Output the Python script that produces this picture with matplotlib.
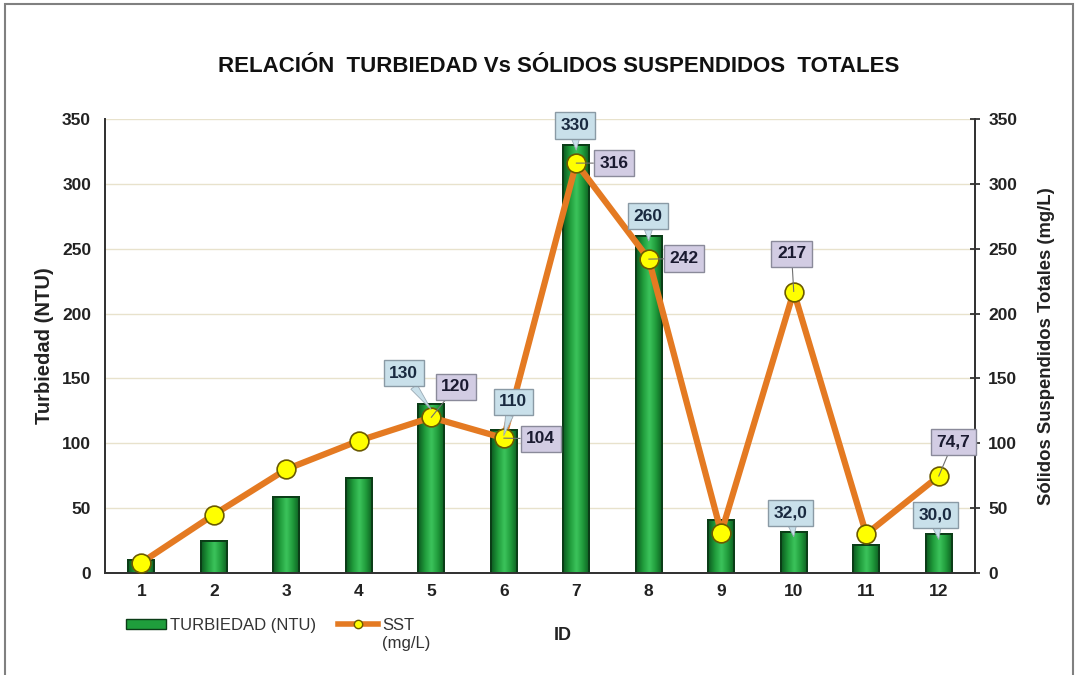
import matplotlib
matplotlib.use("Agg")
import matplotlib.pyplot as plt
import numpy as np
from matplotlib.patches import Rectangle, Patch
from matplotlib.lines import Line2D
from matplotlib.colors import LinearSegmentedColormap

plt.rcParams['font.family'] = ['Liberation Sans', 'DejaVu Sans']

ids = [1, 2, 3, 4, 5, 6, 7, 8, 9, 10, 11, 12]
turbiedad = [10, 25, 59, 73, 130, 110, 330, 260, 41, 32, 22, 30]
sst = [8, 45, 80, 102, 120, 104, 316, 242, 31, 217, 30, 74.7]
yticks = [0, 50, 100, 150, 200, 250, 300, 350]

# labelled points (index) and label text
turb_labels = {4: "130", 5: "110", 6: "330", 7: "260", 9: "32,0", 11: "30,0"}
sst_labels = {4: "120", 5: "104", 6: "316", 7: "242", 9: "217", 11: "74,7"}

# label box positions (layout only)
turb_pos = {4: (4.62, 154), 5: (6.13, 132), 6: (6.98, 345), 7: (7.99, 275), 9: (9.96, 46.5), 11: (11.95, 45)}
sst_pos = {4: (5.34, 143.5), 5: (6.51, 103.5), 6: (7.52, 316), 7: (8.49, 242.5), 9: (9.97, 246), 11: (12.2, 101)}

fig = plt.figure(figsize=(10.76, 6.75), dpi=100)
fig.patches.append(Rectangle((0.005, -0.01), 0.992, 1.004, transform=fig.transFigure,
                             fill=False, edgecolor='#808080', linewidth=1.5))

ax = fig.add_axes([0.0976, 0.151, 0.8085, 0.6727])
ax2 = ax.twinx()
ax.set_zorder(1)
ax2.set_zorder(2)
ax2.patch.set_visible(False)

bars = ax.bar(ids, turbiedad, width=0.36, color='#1f9e3c', edgecolor='#0b3d17', linewidth=1.4, zorder=3)

# horizontal gradient fill inside each bar
cmap = LinearSegmentedColormap.from_list('g', ['#0c5a20', '#1f9a3a', '#3cc45c', '#1f9a3a', '#0c5a20'])
grad = np.linspace(0, 1, 64).reshape(1, -1)
for b in bars:
    x0, y0 = b.get_x(), b.get_y()
    im = ax.imshow(grad, cmap=cmap, aspect='auto', extent=(x0, x0 + b.get_width(), y0, y0 + b.get_height()),
                   zorder=3.5, interpolation='bicubic')
    im.set_clip_path(b)
    edge = Rectangle((x0, y0), b.get_width(), b.get_height(), fill=False, edgecolor='#0b3d17',
                     linewidth=1.4, zorder=3.6)
    ax.add_patch(edge)

ax2.plot(ids, sst, color='#e47a22', linewidth=4.5, marker='o', markersize=13.5,
         markerfacecolor='#ffff00', markeredgecolor='#6b5a00', markeredgewidth=1.2, zorder=4)

for a in (ax, ax2):
    a.set_ylim(0, 350)
    a.set_yticks(yticks)
    a.set_xlim(0.5, 12.5)
    a.spines['top'].set_visible(False)
    for s in ('left', 'right', 'bottom'):
        a.spines[s].set_color('#333333')
        a.spines[s].set_linewidth(1.3)

ax.tick_params(axis='y', labelsize=12.5, length=0, pad=10, colors='#222222')
ax2.tick_params(axis='y', labelsize=12.5, length=7, width=1.2, direction='inout', pad=6, colors='#222222')
for a in (ax, ax2):
    for lab in a.get_yticklabels():
        lab.set_fontweight('bold')

ax.set_xticks(ids)
ax.set_xticklabels([str(i) for i in ids], fontsize=12.5, fontweight='bold', color='#222222')
ax.tick_params(axis='x', length=0, pad=8)
ax.grid(axis='y', color='#e8e2cc', linewidth=1, zorder=0)
ax.set_axisbelow(True)

ax.set_ylabel("Turbiedad (NTU)", fontsize=14.5, fontweight='bold', labelpad=6, color='#222222')
ax2.set_ylabel("Sólidos Suspendidos Totales (mg/L)", fontsize=13.3, fontweight='bold', labelpad=15,
               color='#222222')

fig.text(0.519, 0.902, "RELACIÓN  TURBIEDAD Vs SÓLIDOS SUSPENDIDOS  TOTALES",
         ha='center', va='center', fontsize=16, fontweight='bold', color='#111111')
fig.text(0.523, 0.059, "ID", ha='center', va='center', fontsize=13, fontweight='bold', color='#222222')

for i, txt in turb_labels.items():
    ax2.annotate(txt, xy=(ids[i], turbiedad[i] - 4), xytext=turb_pos[i],
                 ha='center', va='center', fontsize=12.5, fontweight='bold', color='#1a2a40',
                 bbox=dict(boxstyle='square,pad=0.32', fc='#c9e0ea', ec='#8a9aa5', lw=1),
                 arrowprops=dict(arrowstyle='wedge,tail_width=0.45', fc='#c9e0ea', ec='#9aaab5', lw=0.6,
                                 shrinkA=0, shrinkB=0),
                 zorder=6, annotation_clip=False)

for i, txt in sst_labels.items():
    ax2.annotate(txt, xy=(ids[i], sst[i]), xytext=sst_pos[i],
                 ha='center', va='center', fontsize=12.5, fontweight='bold', color='#1a1a30',
                 bbox=dict(boxstyle='square,pad=0.32', fc='#d2cce3', ec='#8a8a9a', lw=1),
                 arrowprops=dict(arrowstyle='-', color='#707070', lw=0.8, shrinkA=0, shrinkB=0),
                 zorder=6, annotation_clip=False)

handles = [Patch(facecolor='#1f9e3c', edgecolor='#0b3d17'),
           Line2D([], [], color='#e47a22', linewidth=4, marker='o', markersize=6,
                  markerfacecolor='#ffff00', markeredgecolor='#6b5a00')]
leg = fig.legend(handles, ["TURBIEDAD (NTU)", "SST"], loc='center left',
                 bbox_to_anchor=(0.117, 0.074), ncol=2, frameon=False, fontsize=12,
                 handlelength=2.4, handletextpad=0.25, columnspacing=1.3, handleheight=0.55,
                 borderpad=0, borderaxespad=0)
for t in leg.get_texts():
    t.set_color('#333333')
fig.canvas.draw()
sst_text = leg.get_texts()[1]
bb = sst_text.get_window_extent()
fig.text(bb.x0 / fig.bbox.width, (bb.y0 - 3) / fig.bbox.height, "(mg/L)", ha='left', va='top',
         fontsize=12, color='#333333')

fig.savefig("out.png", dpi=100)
